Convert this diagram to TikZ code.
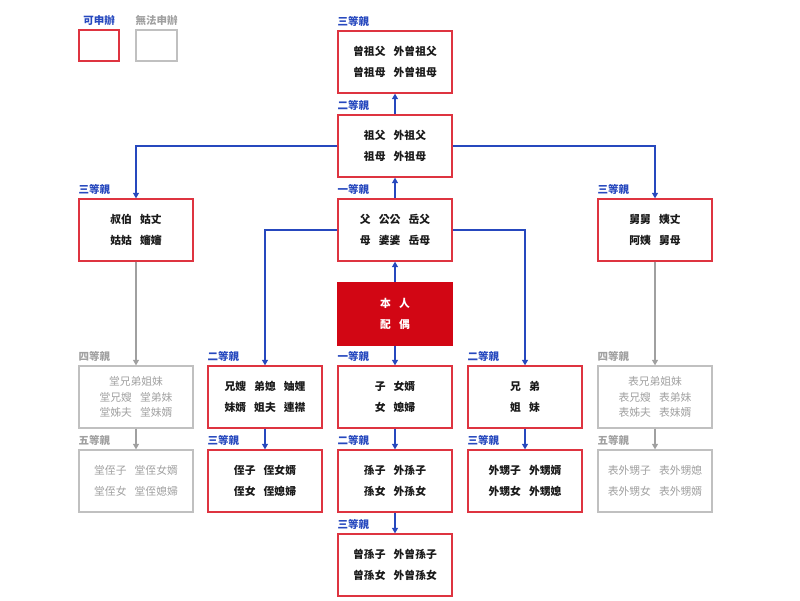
\documentclass[tikz,border=0pt]{standalone}
\usepackage{fontspec}
\setmainfont{Noto Sans CJK TC}
\usetikzlibrary{arrows.meta}
\definecolor{bl}{RGB}{38,72,190}
\definecolor{rd}{RGB}{222,52,64}
\definecolor{rf}{RGB}{210,6,20}
\definecolor{gr}{RGB}{192,192,192}
\definecolor{gt}{RGB}{160,160,160}
\definecolor{tx}{RGB}{26,26,26}
\begin{document}
\begin{tikzpicture}[x=1pt,y=-1pt,
  box/.style={draw=rd, line width=1.3pt, minimum width=114pt, minimum height=62pt, inner sep=0pt,
    font=\fontsize{10.8}{21}\selectfont\bfseries, text=tx, align=center},
  gbox/.style={box, draw=gr, font=\fontsize{10.8}{15.5}\selectfont, text=gt},
  selfbox/.style={box, draw=rf, fill=rf, text=white},
  lab/.style={anchor=base west, inner sep=0pt, font=\fontsize{10.5}{12}\selectfont\bfseries, text=bl},
  glab/.style={lab, text=gt},
  conn/.style={draw=bl, line width=1.1pt, -{Triangle[width=6pt,length=5.5pt]}},
  gconn/.style={conn, draw=gt, fill=gt},
]
\useasboundingbox (0,0) rectangle (800,600);
\newcommand{\gp}{\hspace{0.75em}}
% legend
\node[draw=rd, line width=1.3pt, minimum width=40pt, minimum height=31pt, inner sep=0pt] (lgr) at (99,45.5) {};
\node[draw=gr, line width=1.3pt, minimum width=41pt, minimum height=31pt, inner sep=0pt] (lgg) at (156.5,45.5) {};
\node[lab, anchor=base] (lgrt) at ([yshift=5pt]lgr.north) {可申辦};
\node[glab, anchor=base] (lggt) at ([yshift=5pt]lgg.north) {無法申辦};
% boxes
\node[box] (zz) at (395,62) {曾祖父\gp 外曾祖父\\曾祖母\gp 外曾祖母};
\node[box] (zf) at (395,146) {祖父\gp 外祖父\\祖母\gp 外祖母};
\node[box] (sb) at (136,230) {叔伯\gp 姑丈\\姑姑\gp 嬸嬸};
\node[box] (fa) at (395,230) {父\gp 公公\gp 岳父\\母\gp 婆婆\gp 岳母};
\node[box] (jj) at (655,230) {舅舅\gp 姨丈\\阿姨\gp 舅母};
\node[selfbox] (me) at (395,314) {本\gp 人\\配\gp 偶};
\node[gbox] (tx4) at (136,397) {堂兄弟姐妹\\堂兄嫂\gp 堂弟妹\\堂姊夫\gp 堂妹婿};
\node[box] (xs) at (265,397) {兄嫂\gp 弟媳\gp 妯娌\\妹婿\gp 姐夫\gp 連襟};
\node[box] (zi) at (395,397) {子\gp 女婿\\女\gp 媳婦};
\node[box] (xd) at (525,397) {兄\gp 弟\\姐\gp 妹};
\node[gbox] (bx4) at (655,397) {表兄弟姐妹\\表兄嫂\gp 表弟妹\\表姊夫\gp 表妹婿};
\node[gbox, font=\fontsize{10.8}{21}\selectfont] (tz5) at (136,481) {堂侄子\gp 堂侄女婿\\堂侄女\gp 堂侄媳婦};
\node[box] (zh) at (265,481) {侄子\gp 侄女婿\\侄女\gp 侄媳婦};
\node[box] (sz) at (395,481) {孫子\gp 外孫子\\孫女\gp 外孫女};
\node[box] (ws) at (525,481) {外甥子\gp 外甥婿\\外甥女\gp 外甥媳};
\node[gbox, font=\fontsize{10.8}{21}\selectfont] (bw5) at (655,481) {表外甥子\gp 表外甥媳\\表外甥女\gp 表外甥婿};
\node[box] (zs) at (395,565) {曾孫子\gp 外曾孫子\\曾孫女\gp 外曾孫女};
% labels
\node[lab] (l1) at ([yshift=5pt]zz.north west) {三等親};
\node[lab] (l2) at ([yshift=5pt]zf.north west) {二等親};
\node[lab] (l3) at ([yshift=5pt]sb.north west) {三等親};
\node[lab] (l4) at ([yshift=5pt]fa.north west) {一等親};
\node[lab] (l5) at ([yshift=5pt]jj.north west) {三等親};
\node[glab] (l6) at ([yshift=5pt]tx4.north west) {四等親};
\node[lab] (l7) at ([yshift=5pt]xs.north west) {二等親};
\node[lab] (l8) at ([yshift=5pt]zi.north west) {一等親};
\node[lab] (l9) at ([yshift=5pt]xd.north west) {二等親};
\node[glab] (l10) at ([yshift=5pt]bx4.north west) {四等親};
\node[glab] (l11) at ([yshift=5pt]tz5.north west) {五等親};
\node[lab] (l12) at ([yshift=5pt]zh.north west) {三等親};
\node[lab] (l13) at ([yshift=5pt]sz.north west) {二等親};
\node[lab] (l14) at ([yshift=5pt]ws.north west) {三等親};
\node[glab] (l15) at ([yshift=5pt]bw5.north west) {五等親};
\node[lab] (l16) at ([yshift=5pt]zs.north west) {三等親};
% connectors
\draw[conn] (zf) -- (zz);
\draw[conn] (fa) -- (zf);
\draw[conn] (me) -- (fa);
\draw[conn] (zf.west) -| (sb.north);
\draw[conn] (zf.east) -| (jj.north);
\draw[conn] (fa.west) -| (xs.north);
\draw[conn] (fa.east) -| (xd.north);
\draw[conn] (me) -- (zi);
\draw[conn] (zi) -- (sz);
\draw[conn] (sz) -- (zs);
\draw[conn] (xs) -- (zh);
\draw[conn] (xd) -- (ws);
\draw[gconn] (sb) -- (tx4);
\draw[gconn] (tx4) -- (tz5);
\draw[gconn] (jj) -- (bx4);
\draw[gconn] (bx4) -- (bw5);
\end{tikzpicture}
\end{document}
